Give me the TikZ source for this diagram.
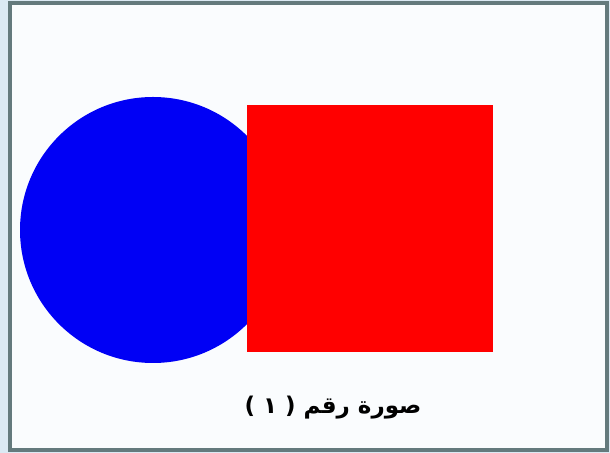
\documentclass[tikz,border=0pt]{standalone}
\usepackage{fontspec}
\newfontfamily\arabicfont[Script=Arabic]{DejaVu Sans}
\TeXXeTstate=1
\begin{document}
\begin{tikzpicture}[x=0.5pt,y=-0.5pt]

    % Farben
    \definecolor{outerblue}{RGB}{219,233,243}
    \definecolor{framegray}{RGB}{100,122,125}
    \definecolor{innerwhite}{RGB}{250,252,254}
    \definecolor{kreisblau}{RGB}{0,0,245}
    \definecolor{quadratrot}{RGB}{255,0,0}

    % Maße
    \def\W{610}
    \def\H{453}

    % Hintergrund
    \fill[outerblue] (0,0) rectangle (\W,\H);
    \useasboundingbox (0,0) rectangle (\W,\H);

    % Rahmen
    \draw[framegray, fill=innerwhite, line width=1.6pt] (10,3) rectangle (607,450);

    % Kreis
    \fill[kreisblau] (153,230) circle[radius=133];

    % Quadrat
    \fill[quadratrot] (247,105) rectangle (493,352);

    % Beschriftung
    \node[font=\arabicfont\bfseries\fontsize{11.5}{14}\selectfont] (caption) at (333,408)
        {\beginR صورة رقم ( ١ )\endR};

\end{tikzpicture}
\end{document}
